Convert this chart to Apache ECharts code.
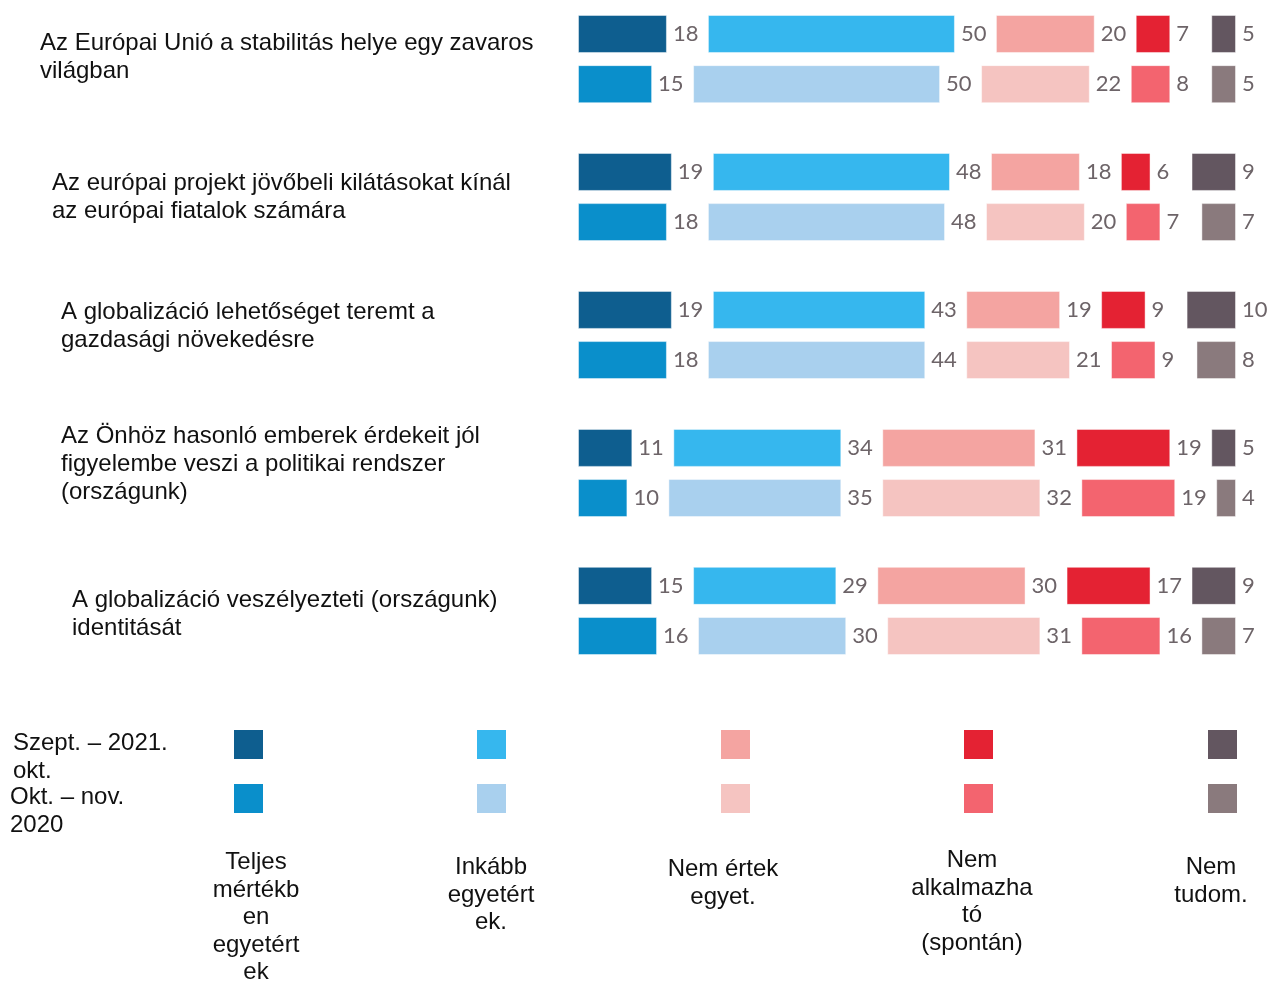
<!DOCTYPE html>
<html>
<head>
<meta charset="utf-8">
<script src="https://cdn.jsdelivr.net/npm/echarts@6/dist/echarts.min.js"></script>
<style>
  html, body { margin: 0; padding: 0; background: #fff; }
  #main { width: 1268px; height: 982px; }
</style>
</head>
<body>
<div id="main"></div>
<script>
// statements (two rows each: Szept. – 2021. okt. then Okt. – nov. 2020)
var statements = [
    "Az Európai Unió a stabilitás helye egy zavaros\nvilágban",
    "Az európai projekt jövőbeli kilátásokat kínál\naz európai fiatalok számára",
    "A globalizáció lehetőséget teremt a\ngazdasági növekedésre",
    "Az Önhöz hasonló emberek érdekeit jól\nfigyelembe veszi a politikai rendszer\n(országunk)",
    "A globalizáció veszélyezteti (országunk)\nidentitását"
];
var periods = ["Szept. – 2021.\nokt.", "Okt. – nov.\n2020"];
var answers = ["Teljes\nmértékb\nen\negyetért\nek", "Inkább\negyetért\nek.", "Nem értek\negyet.", "Nem\nalkalmazha\ntó\n(spontán)", "Nem\ntudom."];

var teljes   = [18, 15, 19, 18, 19, 18, 11, 10, 15, 16];
var inkabb   = [50, 50, 48, 48, 43, 44, 34, 35, 29, 30];
var nemErtek = [20, 22, 18, 20, 19, 21, 31, 32, 30, 31];
var nemAlk   = [7, 8, 6, 7, 9, 9, 19, 19, 17, 16];
var nemTudom = [5, 5, 9, 7, 10, 8, 5, 4, 9, 7];

var colorsSzept = ['#0e5e8f', '#36b7ee', '#f4a4a1', '#e42233', '#635660'];
var colorsOkt   = ['#0a8fcb', '#a9d0ee', '#f5c4c1', '#f3646f', '#8a7a7d'];

var GAP = 8.3;       // space left for the value label after each segment
var SLOTS = 49;      // category slots, group pitch 11, row pitch 4
function slotOf(i) { return Math.floor(i / 2) * 11 + (i % 2) * 4; }

var cats = [];
for (var s = 0; s < SLOTS; s++) cats.push('c' + s);

var allValues = [teljes, inkabb, nemErtek, nemAlk, nemTudom];
var series = [];
allValues.forEach(function (vals, k) {
    var data = [], gapData = [];
    for (var s = 0; s < SLOTS; s++) { data.push('-'); gapData.push('-'); }
    vals.forEach(function (v, i) {
        data[slotOf(i)] = {
            value: v,
            itemStyle: { color: i % 2 == 0 ? colorsSzept[k] : colorsOkt[k] }
        };
        gapData[slotOf(i)] = GAP;
    });
    series.push({
        type: 'bar',
        stack: 'all',
        barWidth: 38,
        clip: false,
        data: data,
        itemStyle: { borderColor: 'rgba(255,255,255,0.45)', borderWidth: 1 },
        label: {
            show: true,
            position: 'right',
            distance: 6,
            color: '#6d6468',
            fontFamily: 'Lato',
            fontSize: 22
        },
        silent: true
    });
    if (k < allValues.length - 1) {
        series.push({
            type: 'bar',
            stack: 'all',
            barWidth: 38,
            clip: false,
            data: gapData,
            itemStyle: { color: 'transparent' },
            silent: true
        });
    }
});

var textFont = '"Liberation Sans", Arial, sans-serif';
var graphic = [];
var stmtPos = [[40, 43], [52, 183], [61, 312], [61, 436], [72, 600]];
statements.forEach(function (t, i) {
    graphic.push({
        type: 'text', left: stmtPos[i][0], top: stmtPos[i][1] - 14,
        style: { text: t, fontSize: 24, lineHeight: 28, fill: '#111', fontFamily: textFont }
    });
});
var periodPos = [[13, 743], [10, 797]];
periods.forEach(function (t, i) {
    graphic.push({
        type: 'text', left: periodPos[i][0], top: periodPos[i][1] - 14,
        style: { text: t, fontSize: 24, lineHeight: 28, fill: '#111', fontFamily: textFont }
    });
});
var colX = [234, 477, 721, 964, 1208];
var labelX = [256, 491, 723, 972, 1211];
var labelY = [863, 868, 870, 861, 868];
answers.forEach(function (t, k) {
    graphic.push({ type: 'rect', shape: { x: colX[k], y: 730, width: 29, height: 29 }, style: { fill: colorsSzept[k] } });
    graphic.push({ type: 'rect', shape: { x: colX[k], y: 784, width: 29, height: 29 }, style: { fill: colorsOkt[k] } });
    graphic.push({
        type: 'text', x: labelX[k], y: labelY[k] - 14,
        style: { text: t, fontSize: 24, lineHeight: 27.5, fill: '#111', fontFamily: textFont, align: 'center', verticalAlign: 'top' }
    });
});

var myChart = echarts.init(document.getElementById('main'));
var option = {
    animation: false,
    backgroundColor: '#fff',
    grid: { left: 578, width: 681.7, top: 27.7, height: 614.6 },
    xAxis: { type: 'value', min: 0, max: 138, show: false },
    yAxis: { type: 'category', data: cats, inverse: true, show: false },
    series: series,
    graphic: graphic
};
myChart.setOption(option);
</script>
</body>
</html>
